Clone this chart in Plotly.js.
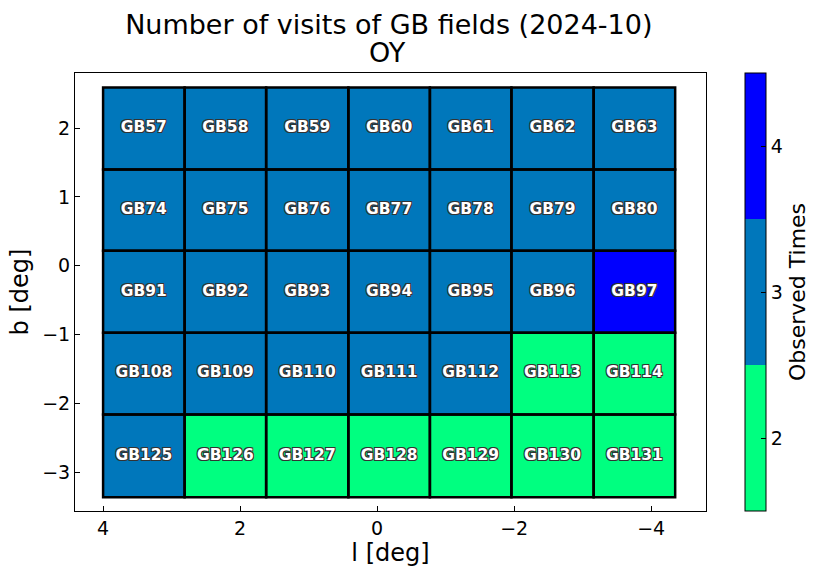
<!DOCTYPE html>
<html><head><meta charset="utf-8">
<script src="https://cdn.plot.ly/plotly-3.0.1.min.js"></script>
<style>body{margin:0;background:#fff}#chart{width:822px;height:575px}</style>
</head><body><div id="chart"></div>
<script>
// Field grid edges (deg)
const lEdges = [4.00, 2.81, 1.62, 0.42, -0.77, -1.96, -3.16, -4.35];
const bEdges = [2.59, 1.40, 0.22, -0.97, -2.16, -3.36];
// Field names, rows from top (b high) to bottom
const fieldNames = [
  ["GB57","GB58","GB59","GB60","GB61","GB62","GB63"],
  ["GB74","GB75","GB76","GB77","GB78","GB79","GB80"],
  ["GB91","GB92","GB93","GB94","GB95","GB96","GB97"],
  ["GB108","GB109","GB110","GB111","GB112","GB113","GB114"],
  ["GB125","GB126","GB127","GB128","GB129","GB130","GB131"]
];
// Observed times per field
const visits = [
  [3,3,3,3,3,3,3],
  [3,3,3,3,3,3,3],
  [3,3,3,3,3,3,4],
  [3,3,3,3,3,2,2],
  [3,2,2,2,2,2,2]
];
const cbTicks = [2,3,4];
const xTicks = [4,2,0,-2,-4];
const yTicks = [2,1,0,-1,-2,-3];
const titleLine1 = 'Number of visits of GB fields (2024-10)';
const titleLine2 = 'OY';

const cGreen = '#00ff80', cTeal = '#0077bb', cBlue = '#0000ff';
const colorscale = [
  [0, cGreen],[1/3, cGreen],[1/3, cTeal],[2/3, cTeal],[2/3, cBlue],[1, cBlue]
];

const heat = {
  type: 'heatmap',
  x: lEdges, y: bEdges, z: visits,
  zmin: 1.5, zmax: 4.5, colorscale: colorscale,
  hoverinfo: 'skip',
  colorbar: {
    x: 1.0616, xanchor: 'left', xpad: 0, y: 0.5, yanchor: 'middle', len: 1, lenmode: 'fraction', ypad: 0,
    thickness: 21, outlinewidth: 1, outlinecolor: '#000',
    tickvals: cbTicks, ticktext: cbTicks.map(String), ticks: 'inside', ticklen: 5, tickcolor: '#000',
    tickfont: {family: 'DejaVu Sans', size: 19, color: '#000'},
    title: {text: 'Observed Times', side: 'right', font: {family: 'DejaVu Sans', size: 22, color: '#000'}}
  }
};

const tx = [], ty = [], tt = [];
const shapes = [];
for (let r = 0; r < fieldNames.length; r++) {
  for (let c = 0; c < fieldNames[r].length; c++) {
    tx.push((lEdges[c] + lEdges[c+1]) / 2);
    ty.push((bEdges[r] + bEdges[r+1]) / 2);
    tt.push(fieldNames[r][c]);
    shapes.push({type:'rect', xref:'x', yref:'y', x0:lEdges[c], x1:lEdges[c+1], y0:bEdges[r], y1:bEdges[r+1],
      line:{color:'#000', width:2.5}, fillcolor:'rgba(0,0,0,0)'});
  }
}
const labels = {
  type: 'scatter', mode: 'text', x: tx, y: ty, text: tt, hoverinfo: 'skip', showlegend: false,
  textfont: {family: 'DejaVu Sans', size: 15.5, color: '#fff', weight: 'bold',
    shadow: '-1px -1px 0 #333, 1px -1px 0 #333, -1px 1px 0 #333, 1px 1px 0 #333'}
};

const axisCommon = {
  showline: true, mirror: true, linecolor: '#000', linewidth: 1,
  ticks: 'inside', ticklen: 5, tickcolor: '#000', showgrid: false, zeroline: false,
  tickfont: {family: 'DejaVu Sans', size: 19, color: '#000'}
};

const layout = {
  width: 822, height: 575,
  margin: {l: 75, r: 114, t: 73, b: 64},
  paper_bgcolor: '#fff', plot_bgcolor: '#fff',
  font: {family: 'DejaVu Sans', color: '#000'},
  title: {text: titleLine1, x: 0.473, xanchor: 'center',
    y: 0.958, yanchor: 'middle', font: {family: 'DejaVu Sans', size: 27, color: '#000'}},
  annotations: [{text: titleLine2, xref: 'paper', yref: 'paper', x: 0.496, y: 1.0457,
    xanchor: 'center', yanchor: 'middle', showarrow: false,
    font: {family: 'DejaVu Sans', size: 27, color: '#000'}}],
  xaxis: Object.assign({}, axisCommon, {range: [4.41, -4.80], tickvals: xTicks,
    title: {text: 'l [deg]', font: {family: 'DejaVu Sans', size: 24, color: '#000'}, standoff: 4}}),
  yaxis: Object.assign({}, axisCommon, {range: [-3.56, 2.80], tickvals: yTicks,
    title: {text: 'b [deg]', font: {family: 'DejaVu Sans', size: 24, color: '#000'}, standoff: 6}}),
  shapes: shapes,
  showlegend: false
};

Plotly.newPlot('chart', [heat, labels], layout, {displayModeBar: false, staticPlot: true});
</script></body></html>
